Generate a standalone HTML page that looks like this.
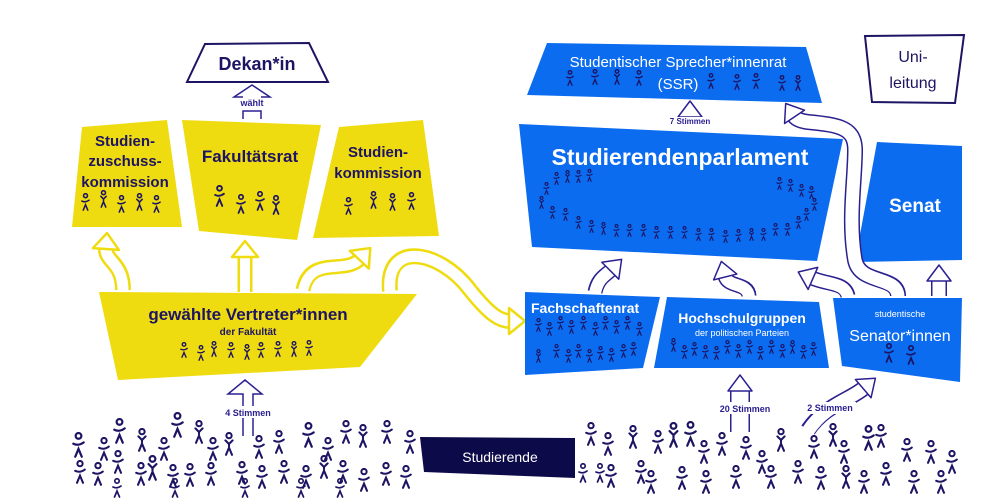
<!DOCTYPE html>
<html><head><meta charset="utf-8"><style>
html,body{margin:0;padding:0;background:#fff;}
svg{display:block;}
text{font-family:"Liberation Sans",sans-serif;}
</style></head><body>
<svg width="1000" height="500" viewBox="0 0 1000 500" xmlns="http://www.w3.org/2000/svg">
<defs>
<symbol id="f" viewBox="0 0 10 20"><g fill="none" stroke="#1d1463" stroke-width="1.7" stroke-linecap="round"><circle cx="5" cy="3" r="2.2"/><path d="M1 9 Q5 11 9 8 M2.5 19 L5 13 L7.5 19"/></g></symbol>
<symbol id="g" viewBox="0 0 10 20"><g fill="none" stroke="#1d1463" stroke-width="1.7" stroke-linecap="round"><circle cx="5" cy="3" r="2.2"/><path d="M2 7 L5 10 L8 7 M5 10 L5 12 M2.5 19 L5 13 L7.5 19"/></g></symbol>
<marker id="mn" markerUnits="userSpaceOnUse" markerWidth="40" markerHeight="40" refX="3" refY="20" orient="auto" viewBox="0 0 40 40" overflow="visible"><polygon points="2,8 18,20 2,32" fill="#fff" stroke="#2a2090" stroke-width="1.5" stroke-linejoin="round"/></marker>
<marker id="my" markerUnits="userSpaceOnUse" markerWidth="40" markerHeight="40" refX="3" refY="20" orient="auto" viewBox="0 0 40 40" overflow="visible"><polygon points="2,7 18,20 2,33" fill="#fff" stroke="#efdc10" stroke-width="2.5" stroke-linejoin="round"/></marker>
</defs>

<!-- Dekan -->
<polygon points="205,44 309,43 328,82 187,82" fill="#fff" stroke="#1d1463" stroke-width="2"/>
<text x="257" y="70" font-size="18" font-weight="bold" fill="#1d1463" text-anchor="middle">Dekan*in</text>
<path d="M243,119 L243,111 L261,111 L261,119 M243,97 L234,97 L252,85 L270,97 L261,97" fill="none" stroke="#2a2090" stroke-width="1.5"/>
<text x="252" y="106" font-size="9" font-weight="bold" fill="#2a2090" text-anchor="middle">wählt</text>

<!-- yellow boxes -->
<polygon points="82,127 167,120 182,227 72,227" fill="#efdc10"/>
<text font-size="15" font-weight="bold" fill="#1d1463" text-anchor="middle"><tspan x="125" y="146">Studien-</tspan><tspan x="125" y="166">zuschuss-</tspan><tspan x="125" y="187">kommission</tspan></text>
<polygon points="182,120 321,125 297,240 199,231" fill="#efdc10"/>
<text x="250" y="162" font-size="17" font-weight="bold" fill="#1d1463" text-anchor="middle">Fakultätsrat</text>
<polygon points="339,127 423,120 439,236 313,238" fill="#efdc10"/>
<text font-size="15" font-weight="bold" fill="#1d1463" text-anchor="middle"><tspan x="378" y="157">Studien-</tspan><tspan x="378" y="178">kommission</tspan></text>
<polygon points="99,292 417,294 360,367 118,380" fill="#efdc10"/>
<text x="248" y="320" font-size="17" font-weight="bold" fill="#1d1463" text-anchor="middle">gewählte Vertreter*innen</text>
<text x="248" y="335" font-size="10" font-weight="bold" fill="#1d1463" text-anchor="middle">der Fakultät</text>

<g>
<use href="#f" x="81" y="193" width="9" height="18"/><use href="#g" x="99" y="190" width="9" height="18"/><use href="#f" x="117" y="195" width="9" height="18"/><use href="#g" x="135" y="193" width="9" height="18"/><use href="#f" x="152" y="195" width="9" height="18"/>
<use href="#f" x="214" y="185" width="11" height="22"/><use href="#f" x="236" y="194" width="10" height="20"/><use href="#f" x="255" y="191" width="10" height="20"/><use href="#g" x="271" y="195" width="10" height="20"/>
<use href="#f" x="344" y="197" width="9" height="18"/><use href="#g" x="369" y="191" width="9" height="18"/><use href="#g" x="388" y="193" width="9" height="18"/><use href="#f" x="407" y="192" width="9" height="18"/>
<use href="#f" x="180" y="342" width="8" height="16"/><use href="#f" x="197" y="345" width="8" height="16"/><use href="#g" x="210" y="341" width="8" height="16"/><use href="#f" x="227" y="342" width="8" height="16"/><use href="#g" x="243" y="344" width="8" height="16"/><use href="#f" x="257" y="342" width="8" height="16"/><use href="#f" x="274" y="341" width="8" height="16"/><use href="#g" x="290" y="341" width="8" height="16"/><use href="#f" x="305" y="340" width="8" height="16"/>
</g>

<!-- yellow arrows -->
<g fill="none" stroke-linecap="butt">
<path d="M123,290 C123,262 105,262 106,248" stroke="#efdc10" stroke-width="16"/><path d="M123,291 C123,262 105,262 106,248" stroke="#fff" stroke-width="11" marker-end="url(#my)"/>
<path d="M245,292 L245,256" stroke="#efdc10" stroke-width="15"/><path d="M245,293 L245,256" stroke="#fff" stroke-width="10" marker-end="url(#my)"/>
<path d="M303,290 C310,255 345,275 360,259" stroke="#efdc10" stroke-width="15"/><path d="M303,291 C310,255 345,275 360,259" stroke="#fff" stroke-width="10" marker-end="url(#my)"/>
<path d="M390,291 C385,240 440,250 470,290 C490,315 500,321 510,321" stroke="#efdc10" stroke-width="16"/><path d="M390,292 C385,240 440,250 470,290 C490,315 500,321 510,321" stroke="#fff" stroke-width="11" marker-end="url(#my)"/>
</g>
<path d="M243,436 L243,394 L228,394 L245,380 L262,394 L253,394 L253,436" fill="none" stroke="#2a2090" stroke-width="1.5"/>
<rect x="228" y="406" width="40" height="12" fill="#fff"/>
<text x="248" y="416" font-size="9" font-weight="bold" fill="#2a2090" text-anchor="middle">4 Stimmen</text>

<!-- blue boxes -->
<polygon points="547,43 806,47 822,103 527,95" fill="#0b6cf0"/>
<text x="678" y="67" font-size="15" fill="#fff" text-anchor="middle">Studentischer Sprecher*innenrat</text>
<text x="678" y="89" font-size="15" fill="#fff" text-anchor="middle">(SSR)</text>
<polygon points="865,36 964,35 955,103 872,102" fill="#fff" stroke="#1d1463" stroke-width="2"/>
<text font-size="16" fill="#1d1463" text-anchor="middle"><tspan x="913" y="62">Uni-</tspan><tspan x="913" y="88">leitung</tspan></text>
<polygon points="519,124 843,139 817,261 532,247" fill="#0b6cf0"/>
<text x="680" y="165" font-size="23" font-weight="bold" fill="#fff" text-anchor="middle">Studierendenparlament</text>
<polygon points="877,142 962,146 962,260 855,262" fill="#0b6cf0"/>
<text x="915" y="212" font-size="19" font-weight="bold" fill="#fff" text-anchor="middle">Senat</text>
<polygon points="525,292 660,297 643,368 525,375" fill="#0b6cf0"/>
<text x="531" y="313" font-size="14" font-weight="bold" fill="#fff">Fachschaftenrat</text>
<polygon points="667,297 819,302 829,368 654,368" fill="#0b6cf0"/>
<text x="742" y="323" font-size="14" font-weight="bold" fill="#fff" text-anchor="middle">Hochschulgruppen</text>
<text x="742" y="336" font-size="9" fill="#fff" text-anchor="middle">der politischen Parteien</text>
<polygon points="833,298 962,298 960,382 842,366" fill="#0b6cf0"/>
<text x="900" y="317" font-size="9" fill="#fff" text-anchor="middle">studentische</text>
<text x="900" y="341" font-size="16" fill="#fff" text-anchor="middle">Senator*innen</text>

<g>
<use href="#f" x="566" y="70" width="8" height="16"/><use href="#f" x="591" y="69" width="8" height="16"/><use href="#g" x="613" y="69" width="8" height="16"/><use href="#f" x="635" y="70" width="8" height="16"/><use href="#f" x="707" y="73" width="8" height="16"/><use href="#f" x="733" y="74" width="8" height="16"/><use href="#f" x="752" y="73" width="8" height="16"/><use href="#f" x="778" y="75" width="8" height="16"/><use href="#g" x="794" y="75" width="8" height="16"/>
<g transform="translate(0,6)">
<use href="#f" x="553" y="166" width="7" height="13"/><use href="#g" x="564" y="164" width="7" height="13"/><use href="#f" x="575" y="164" width="7" height="13"/><use href="#f" x="586" y="163" width="7" height="13"/>
<use href="#f" x="543" y="176" width="7" height="13"/><use href="#g" x="538" y="190" width="7" height="13"/><use href="#f" x="549" y="200" width="7" height="13"/><use href="#f" x="562" y="202" width="7" height="13"/><use href="#f" x="575" y="210" width="7" height="13"/><use href="#f" x="588" y="214" width="7" height="13"/><use href="#g" x="600" y="216" width="7" height="13"/>
<use href="#f" x="613" y="218" width="7" height="13"/><use href="#f" x="626" y="218" width="7" height="13"/><use href="#f" x="640" y="218" width="7" height="13"/><use href="#f" x="653" y="220" width="7" height="13"/><use href="#f" x="667" y="220" width="7" height="13"/><use href="#f" x="681" y="220" width="7" height="13"/><use href="#f" x="695" y="222" width="7" height="13"/><use href="#f" x="708" y="222" width="7" height="13"/><use href="#f" x="722" y="224" width="7" height="13"/><use href="#f" x="735" y="223" width="7" height="13"/><use href="#g" x="748" y="222" width="7" height="13"/><use href="#f" x="760" y="222" width="7" height="13"/><use href="#f" x="772" y="217" width="7" height="13"/><use href="#f" x="784" y="217" width="7" height="13"/><use href="#f" x="795" y="210" width="7" height="13"/><use href="#f" x="803" y="202" width="7" height="13"/><use href="#f" x="811" y="192" width="7" height="13"/><use href="#f" x="808" y="180" width="7" height="13"/><use href="#f" x="798" y="178" width="7" height="13"/><use href="#f" x="787" y="173" width="7" height="13"/><use href="#f" x="776" y="171" width="7" height="13"/>
</g>
<g transform="translate(0,4)">
<use href="#f" x="535" y="314" width="7" height="14"/><use href="#f" x="546" y="318" width="7" height="14"/><use href="#f" x="557" y="312" width="7" height="14"/><use href="#f" x="568" y="316" width="7" height="14"/><use href="#f" x="580" y="312" width="7" height="14"/><use href="#f" x="592" y="318" width="7" height="14"/><use href="#f" x="602" y="312" width="7" height="14"/><use href="#f" x="613" y="316" width="7" height="14"/><use href="#f" x="624" y="312" width="7" height="14"/><use href="#f" x="636" y="318" width="7" height="14"/>
<use href="#g" x="535" y="345" width="7" height="14"/><use href="#f" x="553" y="340" width="7" height="14"/><use href="#f" x="565" y="345" width="7" height="14"/><use href="#f" x="575" y="340" width="7" height="14"/><use href="#f" x="586" y="345" width="7" height="14"/><use href="#f" x="597" y="342" width="7" height="14"/><use href="#f" x="608" y="344" width="7" height="14"/><use href="#f" x="620" y="340" width="7" height="14"/><use href="#f" x="630" y="338" width="7" height="14"/>
</g>
<use href="#g" x="670" y="338" width="7" height="14"/><use href="#f" x="681" y="345" width="7" height="14"/><use href="#f" x="691" y="342" width="7" height="14"/><use href="#f" x="702" y="345" width="7" height="14"/><use href="#f" x="713" y="346" width="7" height="14"/><use href="#f" x="724" y="340" width="7" height="14"/><use href="#f" x="735" y="344" width="7" height="14"/><use href="#f" x="746" y="340" width="7" height="14"/><use href="#f" x="757" y="346" width="7" height="14"/><use href="#f" x="768" y="340" width="7" height="14"/><use href="#f" x="779" y="344" width="7" height="14"/><use href="#g" x="789" y="340" width="7" height="14"/><use href="#f" x="800" y="345" width="7" height="14"/><use href="#f" x="810" y="342" width="7" height="14"/>
<use href="#f" x="884" y="343" width="10" height="20"/><use href="#f" x="906" y="345" width="10" height="20"/>
</g>

<!-- navy outline arrows -->
<g fill="none" stroke-linecap="butt">
<path d="M690,124 L690,116" stroke="#2a2090" stroke-width="16"/><path d="M690,125 L690,116" stroke="#fff" stroke-width="13" marker-end="url(#mn)"/>
<path d="M595,292 C598,278 605,276 611,270" stroke="#2a2090" stroke-width="15"/><path d="M595,293 C598,278 605,276 611,270" stroke="#fff" stroke-width="12" marker-end="url(#mn)"/>
<path d="M749,296 C748,282 728,288 725,276" stroke="#2a2090" stroke-width="15"/><path d="M749,297 C748,282 728,288 725,276" stroke="#fff" stroke-width="12" marker-end="url(#mn)"/>
<path d="M848,296 C845,282 828,285 812,278" stroke="#2a2090" stroke-width="15"/><path d="M848,297 C845,282 828,285 812,278" stroke="#fff" stroke-width="12" marker-end="url(#mn)"/>
<path d="M898,296 C898,275 860,285 855,260 C848,220 855,180 855,150 C855,128 840,125 808,122 C800,121 796,119 794,116" stroke="#2a2090" stroke-width="16"/><path d="M898,297 C898,275 860,285 855,260 C848,220 855,180 855,150 C855,128 840,125 808,122 C800,121 796,119 794,116" stroke="#fff" stroke-width="13" marker-end="url(#mn)"/>
<path d="M939,296 L939,280" stroke="#2a2090" stroke-width="16"/><path d="M939,297 L939,280" stroke="#fff" stroke-width="13" marker-end="url(#mn)"/>
<path d="M740,432 L740,390" stroke="#2a2090" stroke-width="20"/><path d="M740,433 L740,390" stroke="#fff" stroke-width="17" marker-end="url(#mn)"/>
<path d="M808,430 C825,405 850,400 864,388" stroke="#2a2090" stroke-width="16"/><path d="M808,431 C825,405 850,400 864,388" stroke="#fff" stroke-width="13" marker-end="url(#mn)"/>
</g>
<rect x="668" y="117" width="44" height="10" fill="#fff"/>
<text x="690" y="124" font-size="8" font-weight="bold" fill="#2a2090" text-anchor="middle">7 Stimmen</text>
<rect x="715" y="402" width="60" height="12" fill="#fff"/>
<text x="745" y="412" font-size="9" font-weight="bold" fill="#2a2090" text-anchor="middle">20 Stimmen</text>
<rect x="803" y="402" width="53" height="12" fill="#fff"/>
<text x="830" y="411" font-size="9" font-weight="bold" fill="#2a2090" text-anchor="middle">2 Stimmen</text>

<!-- Studierende -->
<polygon points="420,437 575,438 575,478 424,472" fill="#0d0a4a"/>
<text x="500" y="462" font-size="14" fill="#fff" text-anchor="middle">Studierende</text>

<!-- crowd -->
<g>
<use href="#f" x="72" y="432" width="13" height="26"/><use href="#f" x="98" y="437" width="12" height="24"/><use href="#f" x="113" y="418" width="13" height="26"/><use href="#g" x="136" y="428" width="12" height="24"/><use href="#f" x="158" y="437" width="12" height="24"/><use href="#f" x="171" y="412" width="13" height="26"/><use href="#g" x="193" y="420" width="12" height="24"/><use href="#f" x="207" y="437" width="12" height="24"/><use href="#g" x="223" y="432" width="12" height="24"/><use href="#f" x="253" y="435" width="12" height="24"/><use href="#f" x="273" y="430" width="12" height="24"/><use href="#f" x="302" y="422" width="13" height="26"/><use href="#f" x="322" y="437" width="12" height="24"/><use href="#f" x="340" y="420" width="12" height="24"/><use href="#g" x="357" y="424" width="12" height="24"/><use href="#f" x="381" y="420" width="12" height="24"/><use href="#f" x="404" y="430" width="12" height="24"/>
<use href="#f" x="74" y="460" width="12" height="24"/><use href="#f" x="92" y="462" width="12" height="24"/><use href="#f" x="112" y="450" width="12" height="24"/><use href="#f" x="135" y="462" width="12" height="24"/><use href="#g" x="146" y="455" width="13" height="26"/><use href="#f" x="167" y="464" width="12" height="24"/><use href="#f" x="184" y="463" width="12" height="24"/><use href="#f" x="205" y="462" width="12" height="24"/><use href="#f" x="236" y="461" width="12" height="24"/><use href="#f" x="256" y="465" width="12" height="24"/><use href="#f" x="278" y="460" width="12" height="24"/><use href="#f" x="300" y="465" width="12" height="24"/><use href="#g" x="318" y="455" width="12" height="24"/><use href="#f" x="337" y="460" width="12" height="24"/><use href="#f" x="358" y="468" width="12" height="24"/><use href="#f" x="380" y="462" width="12" height="24"/><use href="#f" x="400" y="465" width="12" height="24"/>
<use href="#f" x="112" y="478" width="10" height="20"/><use href="#f" x="170" y="478" width="10" height="20"/><use href="#f" x="240" y="478" width="10" height="20"/><use href="#f" x="296" y="478" width="10" height="20"/><use href="#f" x="335" y="478" width="10" height="20"/>
<use href="#f" x="585" y="422" width="12" height="24"/><use href="#f" x="602" y="432" width="12" height="24"/><use href="#g" x="627" y="425" width="12" height="24"/><use href="#f" x="652" y="430" width="12" height="24"/><use href="#g" x="667" y="422" width="13" height="26"/><use href="#f" x="684" y="421" width="13" height="26"/><use href="#f" x="698" y="440" width="12" height="24"/><use href="#f" x="716" y="432" width="12" height="24"/><use href="#f" x="740" y="436" width="12" height="24"/><use href="#f" x="756" y="450" width="12" height="24"/><use href="#g" x="775" y="428" width="12" height="24"/><use href="#f" x="808" y="435" width="12" height="24"/><use href="#g" x="827" y="423" width="12" height="24"/><use href="#f" x="838" y="440" width="12" height="24"/><use href="#f" x="862" y="425" width="13" height="26"/><use href="#f" x="875" y="424" width="12" height="24"/><use href="#f" x="901" y="438" width="12" height="24"/><use href="#f" x="925" y="440" width="12" height="24"/><use href="#f" x="946" y="450" width="12" height="24"/>
<use href="#f" x="578" y="463" width="10" height="20"/><use href="#f" x="595" y="463" width="10" height="20"/><use href="#f" x="605" y="464" width="12" height="24"/><use href="#f" x="635" y="460" width="12" height="24"/><use href="#f" x="645" y="470" width="12" height="24"/><use href="#f" x="676" y="466" width="12" height="24"/><use href="#f" x="700" y="470" width="12" height="24"/><use href="#f" x="730" y="465" width="12" height="24"/><use href="#f" x="765" y="465" width="12" height="24"/><use href="#f" x="792" y="460" width="12" height="24"/><use href="#f" x="815" y="466" width="12" height="24"/><use href="#g" x="840" y="465" width="12" height="24"/><use href="#f" x="858" y="470" width="12" height="24"/><use href="#f" x="880" y="462" width="12" height="24"/><use href="#f" x="908" y="470" width="12" height="24"/><use href="#f" x="935" y="470" width="12" height="24"/>
</g>
</svg>
</body></html>
